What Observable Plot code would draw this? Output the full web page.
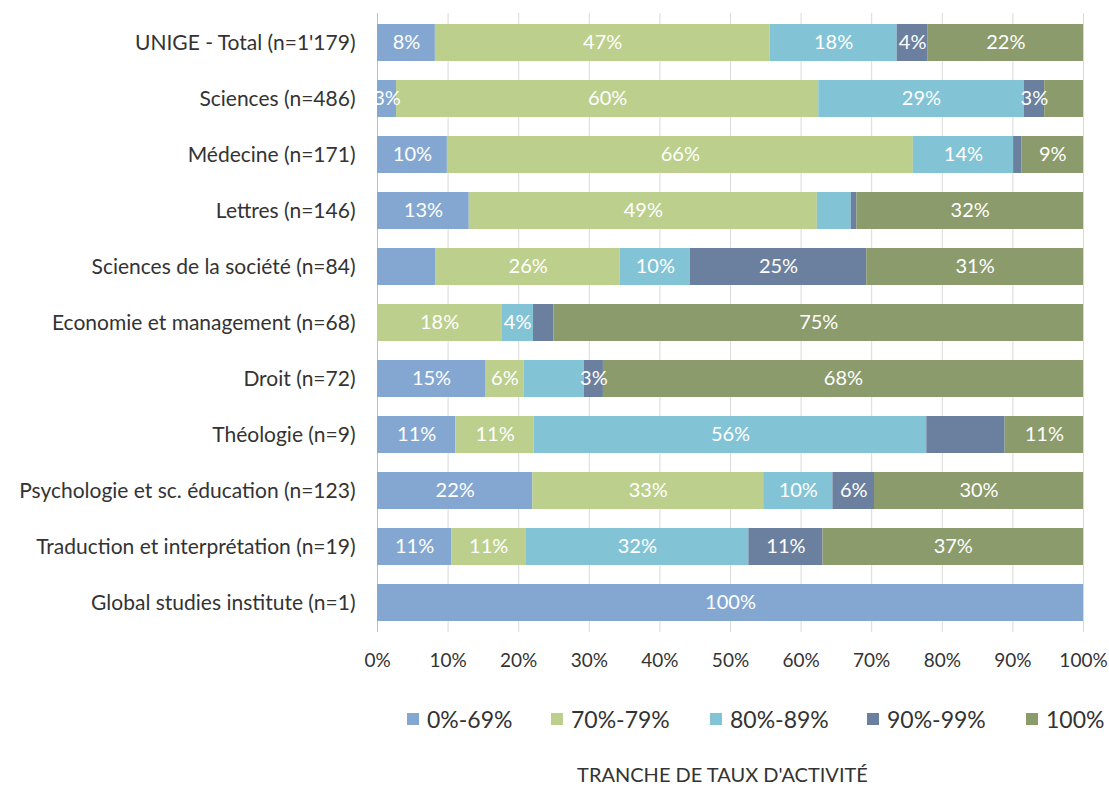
<!DOCTYPE html>
<html><head><meta charset="utf-8">
<script src="https://cdn.jsdelivr.net/npm/d3@7"></script>
<script src="https://cdn.jsdelivr.net/npm/@observablehq/plot@0.6"></script>
<style>
html,body{margin:0;padding:0;background:#fff;}
body{width:1109px;height:787px;overflow:hidden;font-family:Lato,sans-serif;color:#333;position:relative;}
#legend{position:absolute;top:704px;left:0;width:1109px;height:30px;}
.li{position:absolute;top:0;display:flex;align-items:center;font-size:23px;color:#333;white-space:nowrap;height:30px;}
.sw{width:12px;height:12px;margin-right:8px;}
#title{position:absolute;top:762px;left:0;width:1109px;text-align:center;padding-left:336px;box-sizing:border-box;font-size:20px;color:#333;}
</style></head><body>
<div id="chart"></div>
<div id="legend"></div>
<div id="title">TRANCHE DE TAUX D'ACTIVITÉ</div>
<script>
const categories = ["UNIGE - Total (n=1'179)","Sciences (n=486)","Médecine (n=171)","Lettres (n=146)","Sciences de la société (n=84)","Economie et management (n=68)","Droit (n=72)","Théologie (n=9)","Psychologie et sc. éducation (n=123)","Traduction et interprétation (n=19)","Global studies institute (n=1)"];
const seriesNames = ["0%-69%","70%-79%","80%-89%","90%-99%","100%"];
const colors = ["#84a7d2","#bccf8c","#82c4d6","#6a809e","#8c9b6b"];
const s0 = [8.2, 2.7, 9.9, 13.0, 8.3, 0, 15.3, 11.1, 22.0, 10.5, 100];
const s1 = [47.4, 59.8, 66.0, 49.3, 26.1, 17.6, 5.5, 11.1, 32.7, 10.5, 0];
const s2 = [18.0, 29.1, 14.2, 4.8, 9.9, 4.5, 8.5, 55.6, 9.8, 31.6, 0];
const s3 = [4.4, 2.9, 1.2, 0.8, 25.0, 2.9, 2.7, 11.1, 5.9, 10.5, 0];
const s4 = [22.0, 5.5, 8.7, 32.1, 30.7, 75.0, 68.0, 11.1, 29.6, 36.9, 0];
const l0 = ["8%","3%","10%","13%","","","15%","11%","22%","11%","100%"];
const l1 = ["47%","60%","66%","49%","26%","18%","6%","11%","33%","11%",""];
const l2 = ["18%","29%","14%","","10%","4%","","56%","10%","32%",""];
const l3 = ["4%","3%","","","25%","","3%","","6%","11%",""];
const l4 = ["22%","","9%","32%","31%","75%","68%","11%","30%","37%",""];
const xTicks = [0,10,20,30,40,50,60,70,80,90,100];

const seriesVals = [s0,s1,s2,s3,s4];
const seriesLabels = [l0,l1,l2,l3,l4];
const data = [];
categories.forEach((c,i)=>{
  seriesNames.forEach((s,j)=>{
    data.push({cat:c, series:s, value:seriesVals[j][i], label:seriesLabels[j][i]});
  });
});

const chart = Plot.plot({
  width:1109, height:690,
  marginLeft:377, marginRight:26, marginTop:13, marginBottom:58,
  style:{fontFamily:"Lato, sans-serif", background:"#fff"},
  x:{domain:[0,100], label:null},
  y:{domain:categories, paddingInner:0.337, paddingOuter:0.17, label:null},
  color:{domain:seriesNames, range:colors},
  marks:[
    Plot.ruleX(xTicks, {stroke:"#d9d9d9", strokeWidth:1}),
    Plot.ruleX([0], {stroke:"#bfbfbf", strokeWidth:1}),
    Plot.barX(data, Plot.stackX({x:"value", y:"cat", fill:"series", z:"series", order:null})),
    Plot.text(data, Plot.stackX({x:"value", y:"cat", z:"series", order:null, text:"label", fill:"white", fontSize:20})),
    Plot.axisX({tickSize:0, tickPadding:21, tickFormat:d=>d+"%", fontSize:19, fill:"#333", ticks:xTicks, label:null}),
    Plot.axisY({tickSize:0, tickPadding:22, fontSize:21, fill:"#333", label:null})
  ]
});
document.getElementById("chart").appendChild(chart);

const legend = document.getElementById("legend");
const lx = [407, 551, 710, 867, 1026];
seriesNames.forEach((s,j)=>{
  const d = document.createElement("div");
  d.className="li"; d.style.left = lx[j]+"px";
  const sw = document.createElement("span"); sw.className="sw"; sw.style.background=colors[j];
  const t = document.createElement("span"); t.textContent=s;
  d.appendChild(sw); d.appendChild(t); legend.appendChild(d);
});
</script>
</body></html>
